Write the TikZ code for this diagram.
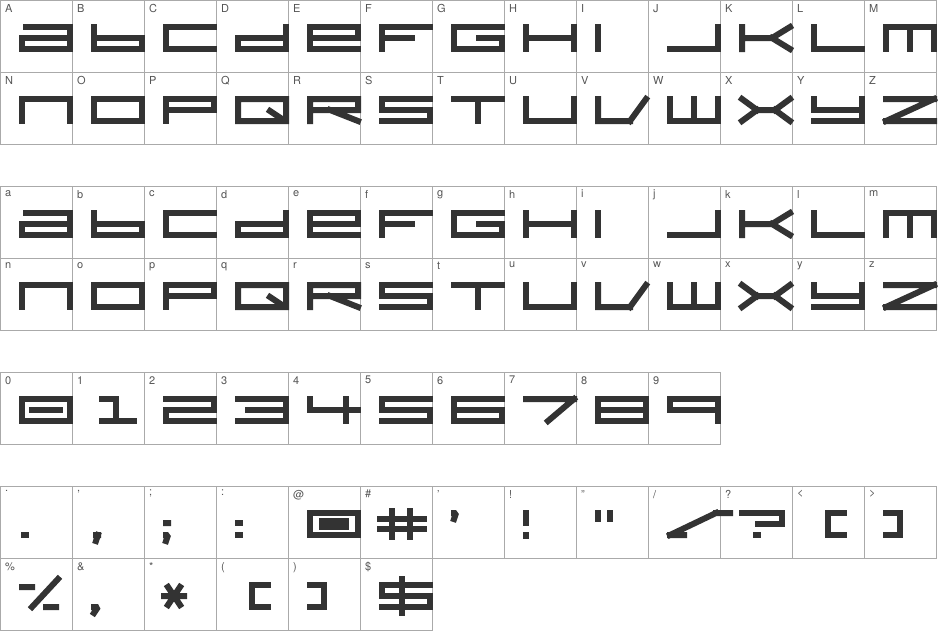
\documentclass[tikz,border=0pt]{standalone}
\usepackage{fontspec}
\setmainfont{TeX Gyre Heros}
\begin{document}
\begin{tikzpicture}[x=1pt,y=-1pt,
  glyph/.style={draw=glyphc,line width=6pt,line cap=rect,line join=miter,miter limit=1.5},
  cell/.style={draw=gridc,line width=0.8pt},
  lab/.style={anchor=north west,inner sep=0pt,font=\fontsize{11}{11}\selectfont,text=labc}]
\definecolor{glyphc}{HTML}{333333}
\definecolor{gridc}{HTML}{AAAAAA}
\definecolor{labc}{HTML}{555555}
\useasboundingbox (0,0) rectangle (938,633);
\newcommand\C[3]{\draw[cell] (#1*72,#2) rectangle ++(72,72); \node[lab] at (#1*72+5,#2+4) {#3};}
\newcommand\G[3]{\begin{scope}[shift={(#1*72+22,#2+27)}]\draw[glyph] #3;\end{scope}}
% grid + labels
\foreach \l [count=\i from 0] in {A,B,C,D,E,F,G,H,I,J,K,L,M}{\C{\i}{0}{\l}}
\foreach \l [count=\i from 0] in {N,O,P,Q,R,S,T,U,V,W,X,Y,Z}{\C{\i}{72}{\l}}
\foreach \l [count=\i from 0] in {a,b,c,d,e,f,g,h,i,j,k,l,m}{\C{\i}{186}{\l}}
\foreach \l [count=\i from 0] in {n,o,p,q,r,s,t,u,v,w,x,y,z}{\C{\i}{258}{\l}}
\foreach \l [count=\i from 0] in {0,1,2,3,4,5,6,7,8,9}{\C{\i}{372}{\l}}
\C{0}{486}{.}\C{1}{486}{,}\C{2}{486}{;}\C{3}{486}{:}\C{4}{486}{@}\C{5}{486}{\#}\C{6}{486}{'}
\C{7}{486}{!}\C{8}{486}{"}\C{9}{486}{/}\C{10}{486}{?}\C{11}{486}{<}\C{12}{486}{>}
\C{0}{558}{\%}\C{1}{558}{\&}\C{2}{558}{*}\C{3}{558}{(}\C{4}{558}{)}\C{5}{558}{\$}
% letter glyphs
\foreach \y in {0,186}{
\G{0}{\y}{(4,0)--(48,0)--(48,22)--(0,22)--(0,11)--(48,11)}
\G{1}{\y}{(0,0)--(0,22)--(48,22)--(48,11)--(0,11)}
\G{2}{\y}{(48,0)--(0,0)--(0,22)--(48,22)}
\G{3}{\y}{(48,0)--(48,22)--(0,22)--(0,11)--(48,11)}
\G{4}{\y}{(48,22)--(0,22)--(0,0)--(48,0)--(48,11)--(0,11)}
\G{5}{\y}{(48,0)--(0,0)--(0,22) (0,11)--(30,11)}
\G{6}{\y}{(48,0)--(0,0)--(0,22)--(48,22)--(48,11)--(25,11)}
\G{7}{\y}{(0,0)--(0,22) (48,0)--(48,22) (0,11)--(48,11)}
\G{8}{\y}{(0,0)--(0,22)}
\G{9}{\y}{(0,22)--(48,22)--(48,0)}
\G{10}{\y}{(0,0)--(0,22) (0,11)--(30,11)--(48,0) (30,11)--(48,22)}
\G{11}{\y}{(0,0)--(0,22)--(48,22)}
\G{12}{\y}{(0,22)--(0,0)--(48,0)--(48,22) (24,0)--(24,22)}
}
\foreach \y in {72,258}{
\G{0}{\y}{(0,22)--(0,0)--(48,0)--(48,22)}
\G{1}{\y}{(0,0) rectangle (48,22)}
\G{2}{\y}{(0,22)--(0,0)--(48,0)--(48,11)--(0,11)}
\G{3}{\y}{(0,0) rectangle (48,22) (32,12)--(44,20)}
\G{4}{\y}{(0,22)--(0,0)--(48,0)--(48,11)--(0,11) (20,11)--(48,22)}
\G{5}{\y}{(48,0)--(0,0)--(0,11)--(48,11)--(48,22)--(0,22)}
\G{6}{\y}{(0,0)--(48,0) (24,0)--(24,22)}
\G{7}{\y}{(0,0)--(0,22)--(48,22)--(48,0)}
\G{8}{\y}{(0,0)--(0,22)--(32,22) (32,22)--(48,0)}
\G{9}{\y}{(0,0)--(0,22)--(48,22)--(48,0) (24,0)--(24,22)}
\G{10}{\y}{(0,0)--(15,11) (15,11)--(0,22) (48,0)--(33,11) (33,11)--(48,22) (15,11)--(33,11)}
\G{11}{\y}{(0,0)--(0,11)--(48,11) (48,0)--(48,22)--(0,22)}
\G{12}{\y}{(0,0)--(48,0) (48,0)--(0,22) (0,22)--(48,22)}
}
% digits
\G{0}{372}{(0,0) rectangle (48,22) (10,11)--(38,11)}
\G{1}{372}{(8,0)--(22,0)--(22,22) (8,22)--(40,22)}
\G{2}{372}{(0,0)--(48,0)--(48,11)--(0,11)--(0,22)--(48,22)}
\G{3}{372}{(0,0)--(48,0)--(48,22)--(0,22) (10,11)--(48,11)}
\G{4}{372}{(0,0)--(0,11)--(48,11) (36,0)--(36,22)}
\G{5}{372}{(48,0)--(0,0)--(0,11)--(48,11)--(48,22)--(0,22)}
\G{6}{372}{(48,0)--(0,0)--(0,22)--(48,22)--(48,11)--(0,11)}
\G{7}{372}{(0,0)--(48,0) (48,0)--(22,22)}
\G{8}{372}{(0,0) rectangle (48,22) (0,11)--(48,11)}
\G{9}{372}{(48,22)--(48,0)--(0,0)--(0,11)--(48,11)}
% punctuation
\G{0}{486}{(2,22)--(4,22)}
\G{1}{486}{(2,22)--(4,22) (4,22)--(2,28)}
\G{2}{486}{(0,10)--(2,10) (0,22)--(2,22)--(0,28)}
\G{3}{486}{(0,10)--(2,10) (0,22)--(2,22)}
\G{4}{486}{(0,0) rectangle (48,22) (12,14) rectangle (36,8)}
\G{5}{486}{(10,-2)--(10,24) (28,-2)--(28,24) (-2,6)--(42,6) (-2,16)--(42,16)}
\G{6}{486}{(0,0)--(2,0)--(0,6)}
\G{7}{486}{(0,0)--(0,10) (0,22)--(0,22.5)}
\G{8}{486}{(0,0)--(0,6) (12,0)--(12,6)}
\G{9}{486}{(46,0)--(60,0) (46,0)--(0,22) (0,22)--(14,22)}
\G{10}{486}{(0,0)--(40,0)--(40,11)--(16,11) (14,22)--(16,22)}
\G{11}{486}{(30,0)--(14,0)--(14,22)--(30,22)}
\G{12}{486}{(0,0)--(14,0)--(14,22)--(0,22)}
\G{0}{558}{(0,2)--(10,2) (36,-6)--(10,22) (24,22)--(34,22)}
\G{1}{558}{(0,22)--(4,22)--(0,28)}
\G{2}{558}{(2,2)--(14,20) (14,2)--(2,20) (-2,11)--(18,11)}
\G{3}{558}{(30,0)--(14,0)--(14,22)--(30,22)}
\G{4}{558}{(0,0)--(14,0)--(14,22)--(0,22)}
\G{5}{558}{(48,0)--(0,0)--(0,11)--(48,11)--(48,22)--(0,22) (20,-6)--(20,28)}
\end{tikzpicture}
\end{document}
